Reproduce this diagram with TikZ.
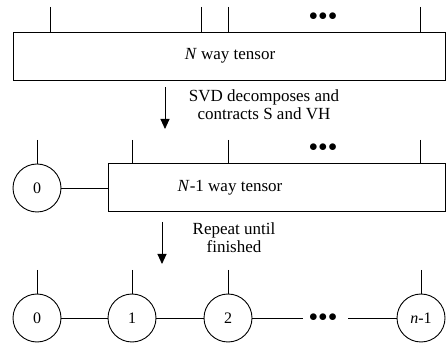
\documentclass[tikz,border=0pt]{standalone}
\usepackage{fontspec}
\setmainfont{Liberation Serif}
\usetikzlibrary{arrows.meta}
\begin{document}
\begin{tikzpicture}[x=1pt,y=-1pt,line width=0.9pt,
  tensorbox/.style={draw,rectangle,inner sep=0pt},
  site/.style={draw,circle,minimum size=48pt,inner sep=0pt,font=\fontsize{16}{16}\selectfont},
  lbl/.style={font=\fontsize{17}{17}\selectfont,align=center},
  dots/.style={font=\fontsize{17}{17}\selectfont},
  step arrow/.style={-{Triangle[length=10pt,width=9pt]}}]
\useasboundingbox (0,0) rectangle (447,344);

% N way tensor with its legs
\node[tensorbox,minimum width=432pt,minimum height=48pt] (T1) at (229,56) {};
\node[lbl] (T1lbl) at (230,56) {\textit{N} way tensor};
\coordinate (a1) at (50,7);
\coordinate (a2) at (201,7);
\coordinate (a3) at (228,7);
\coordinate (a4) at (420,7);
\draw (a1) -- (a1 |- T1.north);
\draw (a2) -- (a2 |- T1.north);
\draw (a3) -- (a3 |- T1.north);
\draw (a4) -- (a4 |- T1.north);
\node[dots] (d1) at (323,17) {$\bullet\!\bullet\!\bullet$};

% first step
\coordinate (s1a) at (165,87);
\coordinate (s1b) at (165,129);
\draw[step arrow] (s1a) -- (s1b);
\node[lbl] (s1lbl) at (264,105) {SVD decomposes and\\[1pt]contracts S and VH};

% site 0 and N-1 way tensor
\node[site] (b0) at (37,188) {0};
\node[tensorbox,minimum width=337pt,minimum height=48pt] (T2) at (276.5,187) {};
\node[lbl] (T2lbl) at (230,188) {\textit{N}-1 way tensor};
\draw (b0) -- (b0 -| T2.west);
\coordinate (bl0) at (37,140);
\draw (bl0) -- (b0);
\coordinate (b1) at (132,140);
\coordinate (b2) at (228,140);
\coordinate (b3) at (420,140);
\draw (b1) -- (b1 |- T2.north);
\draw (b2) -- (b2 |- T2.north);
\draw (b3) -- (b3 |- T2.north);
\node[dots] (d2) at (323,148) {$\bullet\!\bullet\!\bullet$};

% second step
\coordinate (s2a) at (162,222);
\coordinate (s2b) at (162,264);
\draw[step arrow] (s2a) -- (s2b);
\node[lbl] (s2lbl) at (234,238) {Repeat until\\[1pt]finished};

% chain of sites
\node[site] (c0) at (37,318) {0};
\node[site] (c1) at (132,318) {1};
\node[site] (c2) at (228,318) {2};
\node[site] (c3) at (421,318) {\textit{n}-1};
\node[dots] (d3) at (323,318) {$\bullet\!\bullet\!\bullet$};
\coordinate (l0) at (37,270);
\coordinate (l1) at (132,270);
\coordinate (l2) at (228,270);
\coordinate (l3) at (421,270);
\draw (l0) -- (c0);
\draw (l1) -- (c1);
\draw (l2) -- (c2);
\draw (l3) -- (c3);
\draw (c0) -- (c1);
\draw (c1) -- (c2);
\coordinate (g1) at (303,318);
\coordinate (g2) at (348,318);
\draw (c2) -- (g1);
\draw (g2) -- (c3);
\end{tikzpicture}
\end{document}
